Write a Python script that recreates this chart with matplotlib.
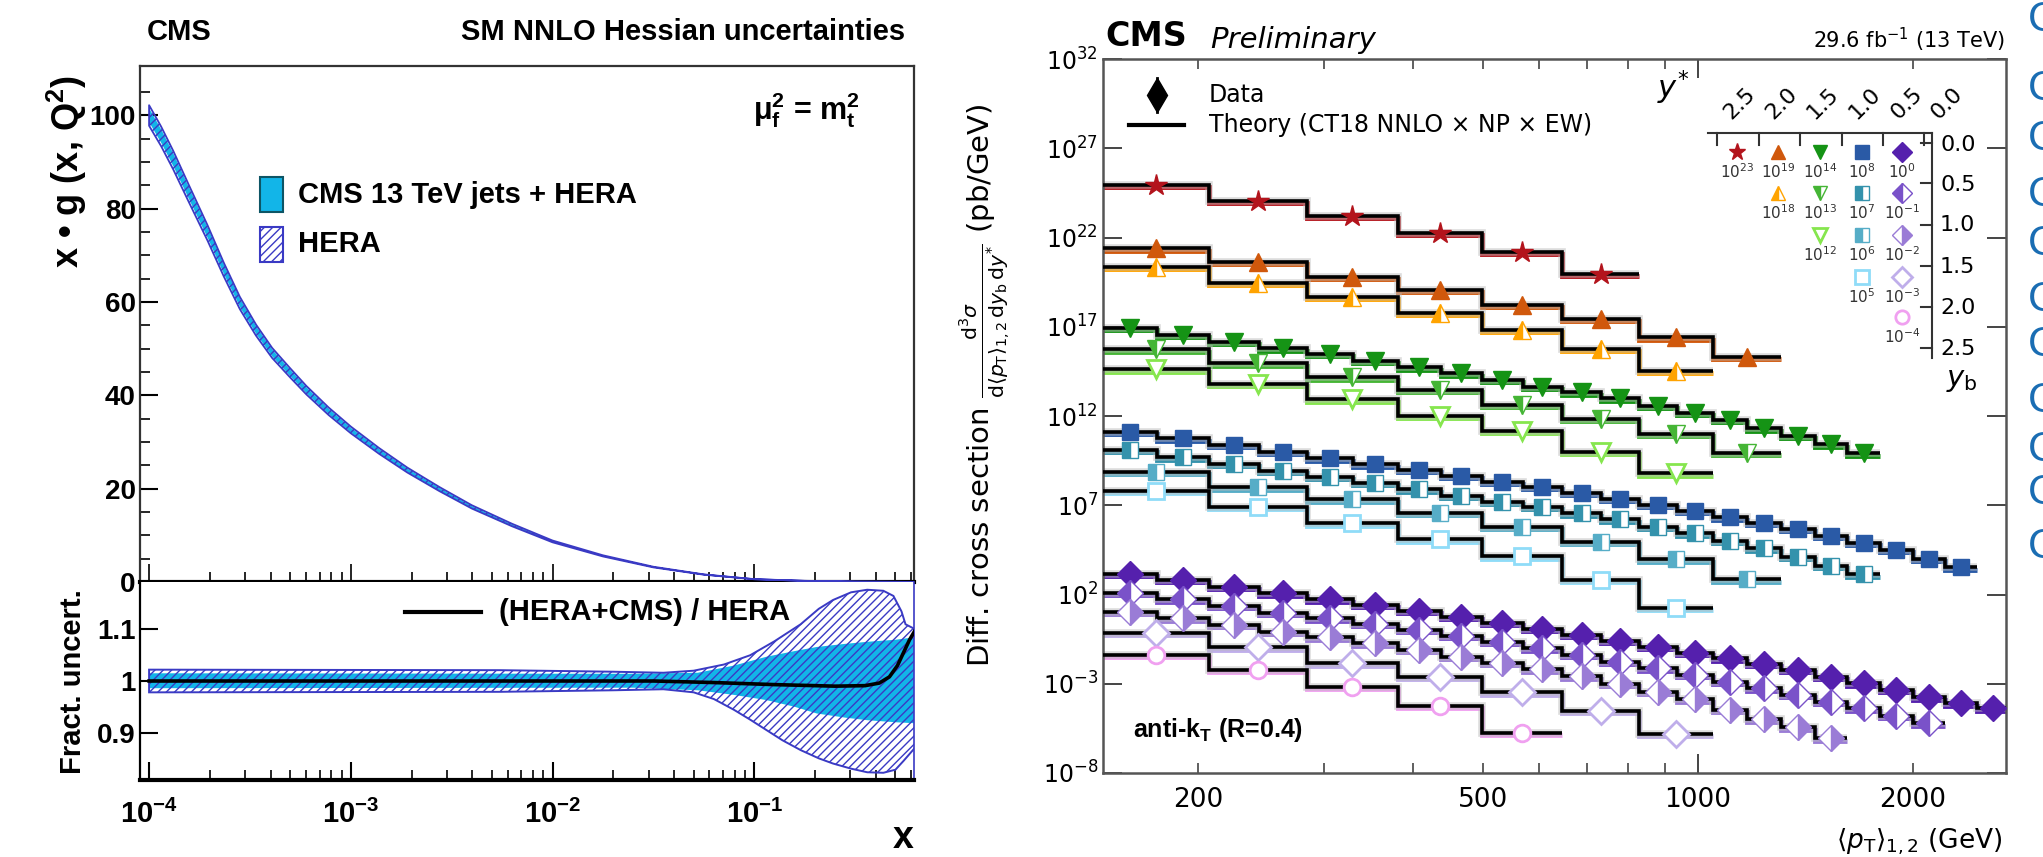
import numpy as np
import matplotlib
matplotlib.use("Agg")
import matplotlib.pyplot as plt
from matplotlib.lines import Line2D
from matplotlib.patches import Rectangle
from matplotlib.ticker import FixedLocator, NullLocator, NullFormatter

W, H, DPI = 2043, 857, 100
plt.rcParams["mathtext.fontset"] = "custom"
plt.rcParams["mathtext.rm"] = "DejaVu Sans"
plt.rcParams["mathtext.it"] = "DejaVu Sans:italic"
plt.rcParams["mathtext.bf"] = "Liberation Sans:bold"
plt.rcParams["hatch.linewidth"] = 1.0

LFONT = "Liberation Sans"
RFONT = "DejaVu Sans"
CYAN = "#12b5e8"
HBLUE = "#3a3ac4"

# ---------------- left: gluon PDF ----------------
glu_logx = [-4.0, -3.94, -3.88, -3.8, -3.71, -3.63, -3.55, -3.47, -3.39, -3.3, -3.22,
            -3.11, -3.0, -2.86, -2.72, -2.56, -2.4, -2.2, -2.0, -1.75, -1.5, -1.25,
            -1.0, -0.75, -0.5, -0.2]
glu_xg = [100, 95.5, 90.4, 83.0, 74.8, 67.0, 59.8, 54.0, 49.1, 44.8, 41.1,
          36.6, 32.6, 28.1, 24.0, 19.9, 16.1, 12.2, 8.7, 5.6, 3.2, 1.6,
          0.6, 0.25, 0.08, 0.01]

# ratio panel: HERA band edges
hera_hi_logx = [-4.0, -2.26, -1.7, -1.45, -1.3, -1.15, -1.02, -0.9, -0.77, -0.68, -0.61, -0.52, -0.44, -0.36, -0.31, -0.27, -0.25, -0.2]
hera_hi = [1.022, 1.021, 1.018, 1.016, 1.02, 1.032, 1.05, 1.077, 1.11, 1.14, 1.157, 1.172, 1.177, 1.175, 1.165, 1.135, 1.11, 1.10]
hera_lo_logx = [-4.0, -2.26, -1.7, -1.45, -1.3, -1.2, -1.1, -1.02, -0.94, -0.86, -0.77, -0.68, -0.61, -0.52, -0.44, -0.36, -0.3, -0.26, -0.2]
hera_lo = [0.978, 0.979, 0.982, 0.984, 0.978, 0.965, 0.944, 0.925, 0.905, 0.885, 0.866, 0.85, 0.84, 0.83, 0.823, 0.822, 0.828, 0.845, 0.872]
# ratio panel: CMS + HERA band edges
cms_logx = [-4.0, -1.6, -1.28, -1.1, -0.94, -0.8, -0.69, -0.55, -0.44, -0.3, -0.2]
cms_hi = [1.015, 1.014, 1.016, 1.03, 1.047, 1.058, 1.066, 1.072, 1.076, 1.08, 1.085]
cms_lo = [0.986, 0.987, 0.982, 0.973, 0.963, 0.95, 0.937, 0.929, 0.924, 0.92, 0.918]
# ratio (HERA+CMS)/HERA
cen_logx = [-4.0, -1.5, -1.2, -0.9, -0.6, -0.45, -0.38, -0.33, -0.29, -0.26, -0.23, -0.2]
cen = [1.0, 1.0, 0.997, 0.993, 0.99, 0.991, 0.996, 1.008, 1.03, 1.055, 1.08, 1.1]

# ---------------- right: triple differential dijet cross section ----------------
fine_edges = [147, 175, 207, 243, 284, 329, 380, 437, 499, 569, 646, 733, 829, 935,
              1050, 1174, 1310, 1458, 1620, 1800, 2000, 2220, 2460, 2730]
wide_edges = fine_edges[::2]

# log10 of the plotted (scaled) theory value per bin
star_log = [24.94, 24.06, 23.20, 22.27, 21.20, 19.95]
tri19_log = [21.40, 20.64, 19.80, 19.06, 18.22, 17.43, 16.41, 15.32]
tri18_log = [20.36, 19.47, 18.68, 17.79, 16.82, 15.75, 14.52]
g14_log = [16.95, 16.54, 16.16, 15.79, 15.47, 15.08, 14.73, 14.39, 14.02, 13.64,
           13.33, 12.99, 12.57, 12.18, 11.78, 11.31, 10.88, 10.41, 9.91]
g13_log = [15.74, 14.95, 14.17, 13.46, 12.62, 11.83, 10.99, 9.94]
g12_log = [14.62, 13.79, 12.94, 12.00, 11.18, 10.00, 8.79]
b8_log = [11.12, 10.75, 10.38, 10.00, 9.63, 9.29, 8.97, 8.64, 8.32, 8.02, 7.69,
          7.35, 7.01, 6.69, 6.32, 6.02, 5.67, 5.28, 4.90, 4.49, 3.99, 3.52]
b7_log = [10.10, 9.69, 9.31, 8.94, 8.60, 8.26, 7.89, 7.52, 7.20, 6.92, 6.55,
          6.21, 5.80, 5.43, 5.01, 4.59, 4.12, 3.60, 3.13]
b6_log = [8.88, 8.01, 7.33, 6.58, 5.80, 4.94, 3.97, 2.85]
b5_log = [7.80, 6.92, 5.99, 5.09, 4.14, 2.81, 1.24]
d0_log = [3.15, 2.81, 2.44, 2.07, 1.73, 1.41, 1.09, 0.76, 0.42, 0.07, -0.27, -0.61,
          -0.92, -1.26, -1.57, -1.89, -2.23, -2.61, -2.97, -3.35, -3.76, -4.09, -4.38]
d1_log = [2.10, 1.73, 1.36, 0.98, 0.67, 0.35, 0.01, -0.32, -0.64, -1.01, -1.37,
          -1.76, -2.13, -2.51, -2.88, -3.25, -3.63, -4.00, -4.38, -4.81, -5.22]
d2_log = [1.04, 0.67, 0.29, -0.08, -0.40, -0.73, -1.11, -1.48, -1.82, -2.19, -2.58,
          -3.01, -3.45, -3.87, -4.47, -4.99, -5.44, -6.06]
d3_log = [-0.14, -0.96, -1.85, -2.60, -3.48, -4.53, -5.81]
c4_log = [-1.39, -2.23, -3.16, -4.24, -5.74]

scale_labels = ["23", "19", "18", "14", "13", "12", "8", "7", "6", "5", "0", "-1", "-2", "-3", "-4"]
ystar_labels = ["2.5", "2.0", "1.5", "1.0", "0.5", "0.0"]
yb_labels = ["0.0", "0.5", "1.0", "1.5", "2.0", "2.5"]


def box(l, t, r, b):
    return [l / W, 1 - b / H, (r - l) / W, (b - t) / H]


def ftext(x, y, s, **kw):
    return fig.text(x / W, 1 - y / H, s, **kw)


def fmark(x, y, **kw):
    fig.add_artist(Line2D([x / W], [1 - y / H], transform=fig.transFigure, ls="none", **kw))


def fline(xs, ys, **kw):
    fig.add_artist(Line2D([v / W for v in xs], [1 - v / H for v in ys],
                          transform=fig.transFigure, **kw))


fig = plt.figure(figsize=(W / DPI, H / DPI), dpi=DPI)

# ======================= left panel =======================
axg = fig.add_axes(box(140, 66, 914, 582))
axr = fig.add_axes(box(140, 582, 914, 780))
for a in (axg, axr):
    a.set_xscale("log")
    a.set_xlim(10 ** -4.045, 10 ** -0.208)

gx = 10 ** np.array(glu_logx)
gy = np.array(glu_xg)
axg.fill_between(gx, gy * 0.985, gy * 1.015, color=CYAN, lw=0, zorder=2)
axg.fill_between(gx, gy * 0.978, gy * 1.022, facecolor="none", edgecolor=HBLUE,
                 hatch="////", lw=1.3, zorder=3)
axg.set_ylim(0, 110.6)
axg.set_yticks([0, 20, 40, 60, 80, 100], ["0", "20", "40", "60", "80", "100"],
               fontfamily=LFONT, fontweight="bold", fontsize=20)
axg.yaxis.set_minor_locator(FixedLocator(np.arange(5, 110, 5)))
axg.tick_params(axis="y", which="major", direction="in", length=13, width=1.5, pad=3)
axg.tick_params(axis="y", which="minor", direction="in", length=7, width=1.2)
axg.tick_params(axis="x", which="both", direction="in", labelbottom=False, width=1.2)
axg.tick_params(axis="x", which="major", length=13)
axg.tick_params(axis="x", which="minor", length=7)
axg.xaxis.set_minor_formatter(NullFormatter())
for s in ("left", "top", "right"):
    axg.spines[s].set_linewidth(1.6)
    axg.spines[s].set_color("#333333")
axg.spines["bottom"].set_linewidth(3)

axr.fill(np.r_[10 ** np.array(cms_logx), 10 ** np.array(cms_logx)[::-1]],
         np.r_[cms_hi, cms_lo[::-1]], color=CYAN, lw=0, zorder=2)
axr.fill(np.r_[10 ** np.array(hera_hi_logx), 10 ** np.array(hera_lo_logx)[::-1]],
         np.r_[hera_hi, hera_lo[::-1]], facecolor="none", edgecolor=HBLUE,
         hatch="////", lw=1.4, zorder=3)
axr.plot(10 ** np.array(cen_logx), cen, color="black", lw=2.6, zorder=4)
axr.set_ylim(0.808, 1.192)
axr.set_yticks([0.9, 1.0, 1.1], ["0.9", "1", "1.1"], fontfamily=LFONT,
               fontweight="bold", fontsize=20)
axr.set_xticks([1e-4, 1e-3, 1e-2, 1e-1],
               [r"$\mathbf{10^{-4}}$", r"$\mathbf{10^{-3}}$", r"$\mathbf{10^{-2}}$", r"$\mathbf{10^{-1}}$"],
               fontsize=21)
axr.xaxis.set_minor_formatter(NullFormatter())
axr.tick_params(axis="y", direction="in", length=13, width=1.5, pad=3)
axr.tick_params(axis="x", which="major", direction="in", length=13, width=1.5, pad=14)
axr.tick_params(axis="x", which="minor", direction="in", length=7, width=1.2)
axr.spines["top"].set_visible(False)
axr.spines["right"].set_color(HBLUE)
axr.spines["right"].set_linewidth(1.2)
axr.spines["left"].set_linewidth(1.6)
axr.spines["bottom"].set_linewidth(3)

ftext(147, 32, "CMS", fontfamily=LFONT, fontweight="bold", fontsize=21, va="center")
ftext(905, 32, "SM NNLO Hessian uncertainties", fontfamily=LFONT, fontweight="bold",
      fontsize=21, ha="right", va="center")
ftext(753, 110, r"μ$_\mathbf{f}^\mathbf{2}$ = m$_\mathbf{t}^\mathbf{2}$", fontfamily=LFONT,
      fontweight="bold", fontsize=22, va="center")
ftext(67, 172, r"x • g (x, Q$^\mathbf{2}$)", fontfamily=LFONT, fontweight="bold",
      fontsize=26, rotation=90, ha="center", va="center")
ftext(73, 682, "Fract. uncert.", fontfamily=LFONT, fontweight="bold", fontsize=21,
      rotation=90, ha="center", va="center")
ftext(903, 838, "x", fontfamily=LFONT, fontweight="bold", fontsize=27, ha="center", va="center")

fig.add_artist(Rectangle((260 / W, 1 - 212 / H), 23 / W, 35 / H, transform=fig.transFigure,
                         facecolor=CYAN, edgecolor="#0d5565", lw=1.5))
fig.add_artist(Rectangle((260 / W, 1 - 262 / H), 23 / W, 35 / H, transform=fig.transFigure,
                         facecolor="white", edgecolor=HBLUE, hatch="////", lw=1.5))
ftext(298, 195, "CMS 13 TeV jets + HERA", fontfamily=LFONT, fontweight="bold",
      fontsize=21, va="center")
ftext(298, 244, "HERA", fontfamily=LFONT, fontweight="bold", fontsize=21, va="center")
fline([405, 481], [612, 612], color="black", lw=3)
ftext(499, 612, "(HERA+CMS) / HERA", fontfamily=LFONT, fontweight="bold", fontsize=21,
      va="center")

# ======================= right panel =======================
axd = fig.add_axes(box(1103, 59, 2006, 773))
axd.set_xscale("log")
axd.set_yscale("log")
axd.set_xlim(147, 2703)
axd.set_ylim(1e-8, 1e32)

styles = [
    (star_log, wide_edges, dict(marker="*", ms=16, color="#b3141c")),
    (tri19_log, wide_edges, dict(marker="^", ms=13, color="#d0580c")),
    (tri18_log, wide_edges, dict(marker="^", ms=13, color="#ffa300", fillstyle="left",
                                 markerfacecoloralt="white")),
    (g14_log, fine_edges, dict(marker="v", ms=13, color="#159315")),
    (g13_log, wide_edges, dict(marker="v", ms=13, color="#45b535", fillstyle="left",
                               markerfacecoloralt="white")),
    (g12_log, wide_edges, dict(marker="v", ms=13, color="#86e64e", mfc="white", mew=2)),
    (b8_log, fine_edges, dict(marker="s", ms=12, color="#2a5aa6")),
    (b7_log, fine_edges, dict(marker="s", ms=12, color="#3492ac", fillstyle="left",
                              markerfacecoloralt="white")),
    (b6_log, wide_edges, dict(marker="s", ms=12, color="#56adc7", fillstyle="left",
                              markerfacecoloralt="white")),
    (b5_log, wide_edges, dict(marker="s", ms=12, color="#8fdcf8", mfc="white", mew=2)),
    (d0_log, fine_edges, dict(marker="D", ms=13, color="#5520ad")),
    (d1_log, fine_edges, dict(marker="D", ms=13, color="#7a52c9", fillstyle="left",
                              markerfacecoloralt="white")),
    (d2_log, fine_edges, dict(marker="D", ms=13, color="#9a7cd6", fillstyle="right",
                              markerfacecoloralt="white")),
    (d3_log, wide_edges, dict(marker="D", ms=13, color="#bfaeea", mfc="white", mew=2)),
    (c4_log, wide_edges, dict(marker="o", ms=12, color="#f0a0f0", mfc="white", mew=2)),
]

for vals, edges, mk in styles:
    v = 10.0 ** np.array(vals)
    e = np.array(edges[:len(v) + 1], dtype=float)
    c = np.sqrt(e[:-1] * e[1:])
    axd.stairs(v * 10 ** -0.13, e, baseline=None, color=mk["color"], lw=3.5, zorder=2)
    axd.stairs(v, e, baseline=None, color="#bbbbbb", lw=5.5, alpha=0.5, zorder=2.5)
    axd.stairs(v, e, baseline=None, color="black", lw=2.6, zorder=3)
    axd.plot(c, v, ls="none", zorder=4, **mk)

yt = [10.0 ** k for k in range(-8, 33, 5)]
axd.set_yticks(yt, [r"$10^{%d}$" % k for k in range(-8, 33, 5)], fontsize=17)
axd.yaxis.set_minor_locator(NullLocator())
axd.set_xticks([1000], ["1000"], fontsize=19, fontfamily=RFONT)
minor_x = [200, 300, 400, 500, 600, 700, 800, 900, 2000]
axd.set_xticks(minor_x, ["200", "", "", "500", "", "", "", "", "2000"], minor=True,
               fontsize=19, fontfamily=RFONT)
axd.tick_params(which="both", direction="in", top=True, right=True, color="#444444")
axd.tick_params(which="major", length=14, width=1.4)
axd.tick_params(which="minor", length=7, width=1.2)
axd.tick_params(axis="x", which="both", pad=10)
for s in axd.spines.values():
    s.set_linewidth(1.8)
    s.set_color("#555555")

ftext(1105, 37, "CMS", fontfamily=RFONT, fontweight="bold", fontsize=24, va="center")
ftext(1210, 40, "Preliminary", fontfamily=RFONT, style="italic", fontsize=21, va="center")
ftext(2005, 40, r"29.6 fb$^{-1}$ (13 TeV)", fontfamily=RFONT, fontsize=15, ha="right",
      va="center")
ftext(985, 385,
      r"Diff. cross section $\frac{\mathrm{d}^3\sigma}{\mathrm{d}\langle p_\mathrm{T}\rangle_{1,2}\,\mathrm{d}y_\mathrm{b}\,\mathrm{d}y^{*}}$ (pb/GeV)",
      fontfamily=RFONT, fontsize=21, rotation=90, ha="center", va="center")
ftext(2003, 842, r"$\langle p_\mathrm{T}\rangle_{1,2}$ (GeV)", fontfamily=RFONT, fontsize=19,
      ha="right", va="center")
ftext(1133, 730, r"anti-k$_\mathbf{T}$ (R=0.4)", fontfamily=LFONT, fontweight="bold",
      fontsize=18, va="center")

# top-left legend
fmark(1157, 95, marker="d", ms=17, color="black")
fline([1157, 1157], [78, 112], color="black", lw=2)
ftext(1209, 95, "Data", fontfamily=RFONT, fontsize=17, va="center")
fline([1129, 1184], [125, 125], color="black", lw=3)
ftext(1209, 125, "Theory (CT18 NNLO × NP × EW)", fontfamily=RFONT, fontsize=17, va="center")

# y* / yb key
fline([1708, 1932], [133, 133], color="#333333", lw=1.5)
fline([1932, 1932], [133, 358], color="#333333", lw=1.5)
for xt in [1717, 1759, 1800, 1842, 1883, 1924]:
    fline([xt, xt], [133, 145], color="#333333", lw=1.5)
for yv in [143, 183, 225, 266, 307, 348]:
    fline([1921, 1932], [yv, yv], color="#333333", lw=1.5)
for lab, xv in zip(ystar_labels, [1740, 1782, 1823, 1865, 1907, 1947]):
    ftext(xv, 103, lab, fontfamily=RFONT, fontsize=16, rotation=45, ha="center", va="center")
for lab, yv in zip(yb_labels, [145, 185, 225, 267, 308, 349]):
    ftext(1940, yv, lab, fontfamily=RFONT, fontsize=16, va="center")
ftext(1673, 88, r"$y^{*}$", fontsize=22, ha="center", va="center")
ftext(1962, 380, r"$y_\mathrm{b}$", fontsize=21, ha="center", va="center")

col_x = [1737, 1778, 1820, 1862, 1902]
row_y = [152, 193, 235, 277, 317]
key_pos = [(0, 0), (1, 0), (1, 1), (2, 0), (2, 1), (2, 2), (3, 0), (3, 1), (3, 2), (3, 3),
           (4, 0), (4, 1), (4, 2), (4, 3), (4, 4)]
for (vals, edges, mk), lab, (ci, ri) in zip(styles, scale_labels, key_pos):
    kw = dict(mk)
    kw["ms"] = kw["ms"] * 0.8
    fmark(col_x[ci], row_y[ri], **kw)
    ftext(col_x[ci], row_y[ri] + 20, r"$10^{%s}$" % lab, fontsize=11, ha="center", va="center",
          color="#333333")

# clipped slide text along the right edge
for yv in [20, 89, 139, 195, 244, 300, 345, 401, 450, 493, 547]:
    ftext(2028, yv, "C", fontfamily=LFONT, fontsize=30, color="#1a6db3", va="center")

fig.savefig("out.png", dpi=DPI)
